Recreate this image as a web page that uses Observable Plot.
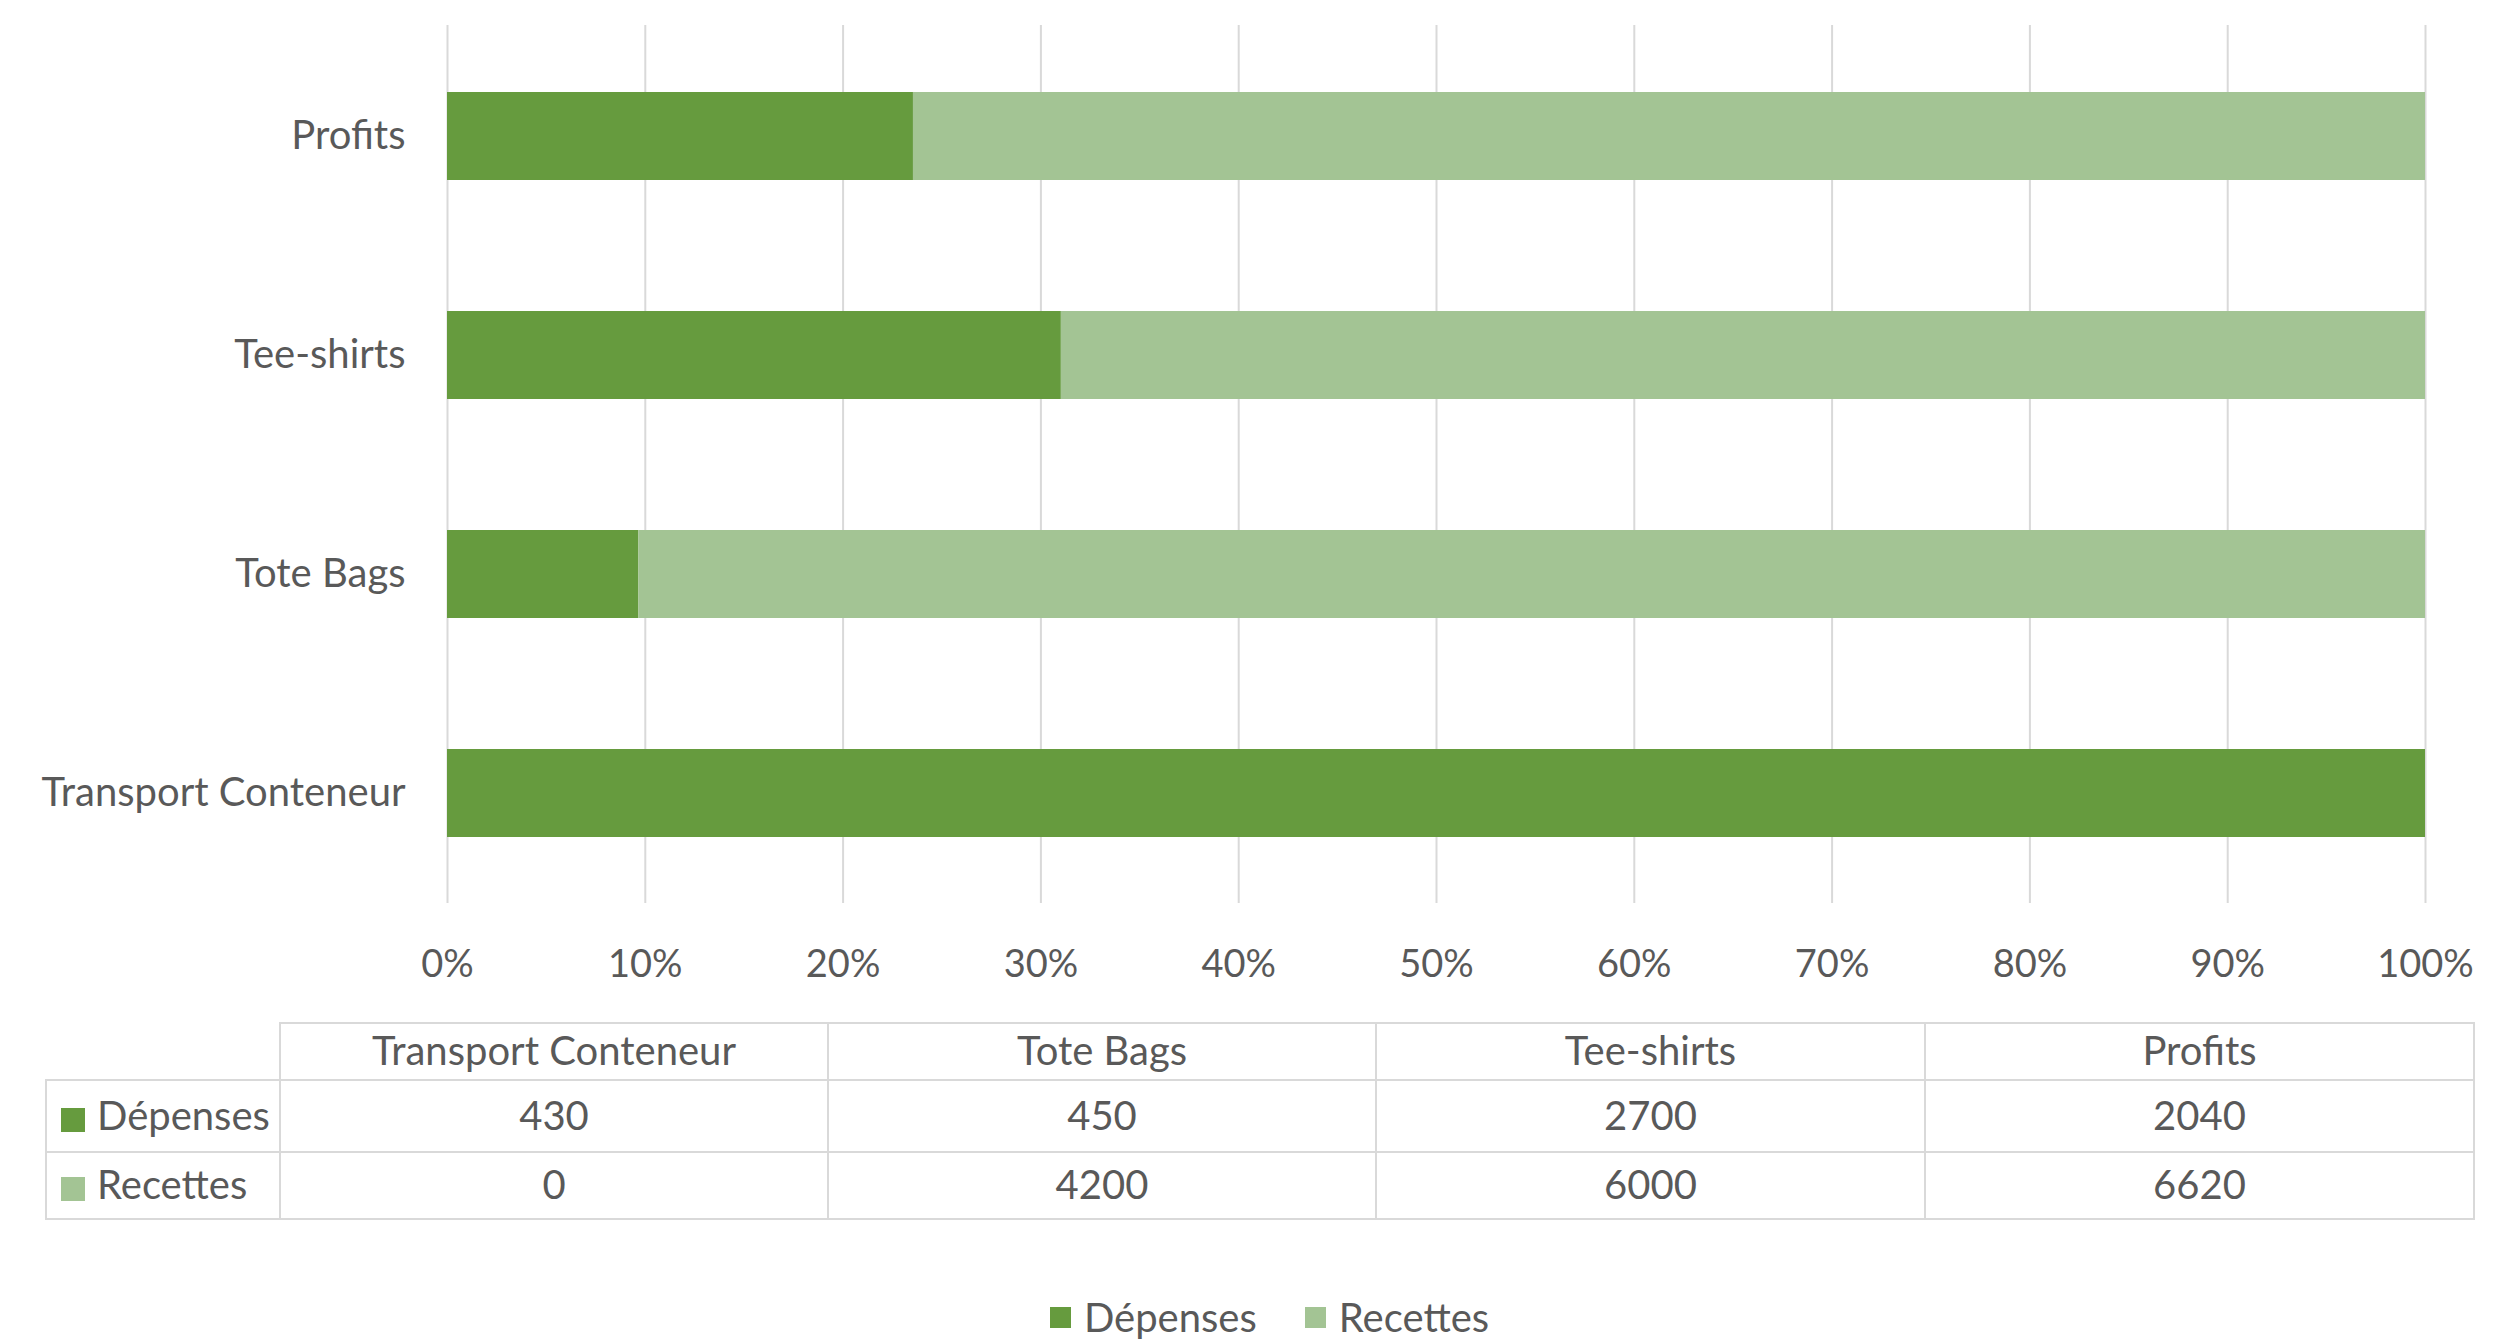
<!DOCTYPE html>
<html>
<head>
<meta charset="utf-8">
<script src="https://cdn.jsdelivr.net/npm/d3@7"></script>
<script src="https://cdn.jsdelivr.net/npm/@observablehq/plot@0.6"></script>
<style>
  html, body { margin: 0; padding: 0; background: #ffffff; }
  #wrap { position: relative; width: 2495px; height: 1340px; background: #ffffff; font-family: Lato, "Open Sans", sans-serif; color: #595959; overflow: hidden; }
  #chart { position: absolute; left: 0; top: 0; }
  #table { position: absolute; left: 45px; top: 1022px; border-collapse: collapse; font-size: 40px; color: #595959; }
  #table td { border: 2px solid #d9d9d9; text-align: center; padding: 0 0 3px 0; line-height: 1; }
  #table td.corner { border-top: none; border-left: none; }
  #table td.rowhead { text-align: left; padding-left: 14px; white-space: nowrap; }
  .sw { display: inline-block; width: 24px; height: 24px; margin-right: 12px; vertical-align: -2px; }
  #legend { position: absolute; left: 22px; width: 2495px; top: 1297px; display: flex; justify-content: center; gap: 48px; font-size: 40px; line-height: 1; }
  #legend .item { display: flex; align-items: center; }
  #legend .sw { width: 21px; height: 21px; margin-right: 13px; vertical-align: 0; }
</style>
</head>
<body>
<div id="wrap">
  <div id="chart"></div>
  <table id="table"></table>
  <div id="legend"></div>
</div>
<script>
// ---- data ----
const categories = ["Transport Conteneur", "Tote Bags", "Tee-shirts", "Profits"];
const series = ["Dépenses", "Recettes"];
const depenses = [430, 450, 2700, 2040];
const recettes = [0, 4200, 6000, 6620];
const xTicks = [0, 0.1, 0.2, 0.3, 0.4, 0.5, 0.6, 0.7, 0.8, 0.9, 1];
const colors = ["#669b3e", "#a3c494"];

const values = [depenses, recettes];
const rows = [];
categories.forEach((c, i) => {
  series.forEach((s, j) => rows.push({category: c, series: s, value: values[j][i]}));
});

const W = 2495, H = 1000;
const plot = Plot.plot({
  width: W,
  height: H,
  marginTop: 25,
  marginBottom: 97,
  marginLeft: 447,
  marginRight: 70,
  style: {fontFamily: "Lato, 'Open Sans', sans-serif", fontSize: "38px", color: "#595959", background: "#ffffff"},
  x: {domain: [0, 1], ticks: xTicks, label: null},
  y: {domain: categories.slice().reverse(), paddingInner: 0.6, paddingOuter: 0.3, label: null},
  color: {domain: series, range: colors},
  marks: [
    Plot.gridX(xTicks, {stroke: "#d9d9d9", strokeOpacity: 1, strokeWidth: 2}),
    Plot.barX(rows, Plot.stackX({offset: "normalize", x: "value", y: "category", z: "series", fill: "series"})),
    Plot.axisX(xTicks, {tickSize: 0, tickPadding: 47, tickFormat: d3.format(".0%"), fontSize: 38, fill: "#595959", label: null}),
    Plot.axisY({tickSize: 0, tickPadding: 42, fontSize: 40, fill: "#595959", label: null})
  ]
});
document.getElementById("chart").appendChild(plot);

// ---- data table ----
const table = document.getElementById("table");
const colW = [234, 548, 548, 549, 549];
const rowH = [57, 72, 67];
let html = "<colgroup>" + colW.map(w => `<col style="width:${w}px">`).join("") + "</colgroup>";
html += `<tr style="height:${rowH[0]}px"><td class="corner"></td>` + categories.map(c => `<td>${c}</td>`).join("") + "</tr>";
series.forEach((s, j) => {
  html += `<tr style="height:${rowH[j + 1]}px"><td class="rowhead"><span class="sw" style="background:${colors[j]}"></span>${s}</td>` +
    values[j].map(v => `<td>${v}</td>`).join("") + "</tr>";
});
table.innerHTML = html;
table.style.width = colW.reduce((a, b) => a + b, 0) + "px";
table.style.tableLayout = "fixed";

// ---- legend ----
document.getElementById("legend").innerHTML = series.map((s, j) =>
  `<div class="item"><span class="sw" style="background:${colors[j]}"></span><span>${s}</span></div>`).join("");
</script>
</body>
</html>
